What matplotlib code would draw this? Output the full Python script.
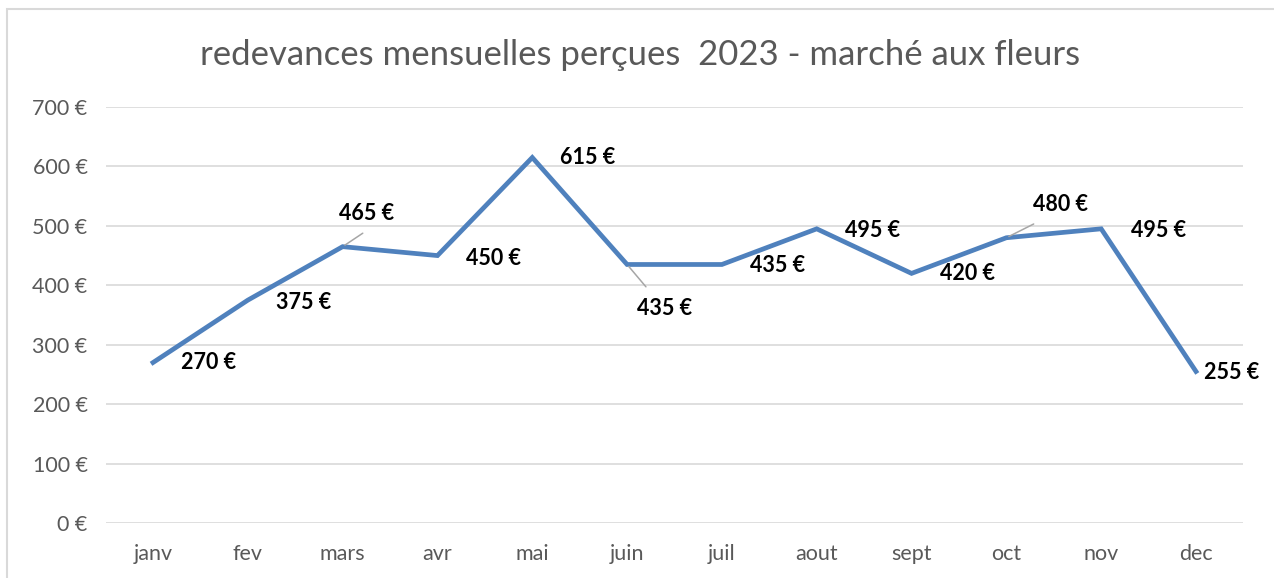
import matplotlib.pyplot as plt
from matplotlib.patches import Rectangle

months = ['janv', 'fev', 'mars', 'avr', 'mai', 'juin', 'juil', 'aout', 'sept', 'oct', 'nov', 'dec']
values = [270, 375, 465, 450, 615, 435, 435, 495, 420, 480, 495, 255]
yticks = [0, 100, 200, 300, 400, 500, 600, 700]

# label offsets in points (dx, dy), leader flag
offsets = [(40, 0, False), (40, -2, False), (17, 24, True), (40, -2, False),
           (40, 0, False), (27, -32, True), (40, -1, False), (40, -1, False),
           (40, 0, False), (39, 24, True), (41, -1, False), (26, -1, False)]

plt.rcParams['font.family'] = ['Lato', 'DejaVu Sans']

fig = plt.figure(figsize=(12.74, 5.78), dpi=100)
fig.patches.append(Rectangle((7 / 1274, -0.1), 1.2, (578 - 9) / 578 + 0.1,
                             transform=fig.transFigure, fill=False,
                             edgecolor='#d9d9d9', linewidth=1.5))

ax = fig.add_axes([105.6 / 1274, 55 / 578, (1243.4 - 105.6) / 1274, 416 / 578])
x = list(range(len(months)))
ax.plot(x, values, color='#4f81bd', linewidth=3.4, solid_joinstyle='miter', zorder=3)

for i, v in enumerate(values):
    dx, dy, lead = offsets[i]
    ax.annotate(f'{v} €', (i, v), xytext=(dx, dy), textcoords='offset points',
                ha='center', va='center', fontsize=15.5, fontweight='bold', color='black')
    if lead:
        ex = dx * 0.55 if dx > 20 else dx * 0.95
        ey = dy * 0.55 if dy < 0 else dy * 0.45
        ax.annotate('', (i, v), xytext=(ex, ey), textcoords='offset points',
                    arrowprops=dict(arrowstyle='-', color='#a6a6a6', lw=1.1))

ax.set_xlim(-0.5, len(months) - 0.5)
ax.set_ylim(0, 700)
ax.set_yticks(yticks)
ax.set_yticklabels([f'{t} €' for t in yticks])
ax.set_xticks(x)
ax.set_xticklabels(months)
ax.tick_params(length=0, labelsize=15.5, labelcolor='#595959')
ax.tick_params(axis='y', pad=13)
ax.tick_params(axis='x', pad=15)
ax.grid(axis='y', color='#d9d9d9', linewidth=1.2)
ax.set_axisbelow(True)
for s in ax.spines.values():
    s.set_visible(False)

fig.text(640 / 1274, 1 - 55 / 578, 'redevances mensuelles perçues  2023 - marché aux fleurs',
         ha='center', va='center', fontsize=25, color='#595959')

fig.savefig('out.png', dpi=100)
